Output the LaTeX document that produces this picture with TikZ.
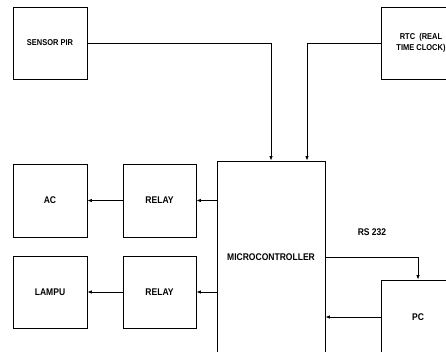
\documentclass[tikz,border=0pt]{standalone}
\usepackage{fontspec}
\usepackage{tikz}
\usetikzlibrary{arrows.meta,positioning}
\newfontfamily\blockfont[FakeStretch=0.88]{Liberation Sans}

\begin{document}
\begin{tikzpicture}[x=1pt,y=-1pt,>={Latex[length=4.5pt,width=3.5pt]},
    block/.style={draw,line width=0.8pt,inner sep=0pt,align=center,
                  font=\blockfont\bfseries\fontsize{9.7}{11}\selectfont},
    small/.style={font=\blockfont\bfseries\fontsize{8.5}{11}\selectfont},
    link/.style={line width=0.8pt,->}]
    \useasboundingbox (0,0) rectangle (446,351);
    \clip (0,0) rectangle (446,351);
    % inputs
    \node[block,small,minimum width=74pt,minimum height=72pt] (pir) at (50,43) {SENSOR PIR};
    \node[block,small,minimum width=80pt,minimum height=72pt] (rtc) at (421,43) {RTC\ \ (REAL\\TIME CLOCK)};
    \node[block,minimum width=108pt,minimum height=192pt] (mcu) at (271,257) {MICROCONTROLLER};
    \draw[link] (pir.east) -| (mcu.north);
    \draw[link] (rtc.west) -| ([xshift=36pt]mcu.north);

    % outputs
    \node[block,minimum width=73pt,minimum height=73pt] (relay1) at (159.5,200.5) {RELAY};
    \node[block,minimum width=74pt,minimum height=73pt] (ac) at (50,200.5) {AC};
    \node[block,minimum width=73pt,minimum height=72pt] (relay2) at (159.5,292) {RELAY};
    \node[block,minimum width=74pt,minimum height=72pt] (lampu) at (50,292) {LAMPU};
    \draw[link] (mcu.west |- relay1) -- (relay1);
    \draw[link] (relay1) -- (ac);
    \draw[link] (mcu.west |- relay2) -- (relay2);
    \draw[link] (relay2) -- (lampu);

    % serial link
    \node[block,minimum width=74pt,minimum height=74pt] (pc) at (418,317) {PC};
    \node[block,draw=none] (rs) at (372,232) {RS 232};
    \draw[link] (mcu.east) -| (pc.north);
    \draw[link] (pc.west) -- (pc.west -| mcu.east);
\end{tikzpicture}
\end{document}
